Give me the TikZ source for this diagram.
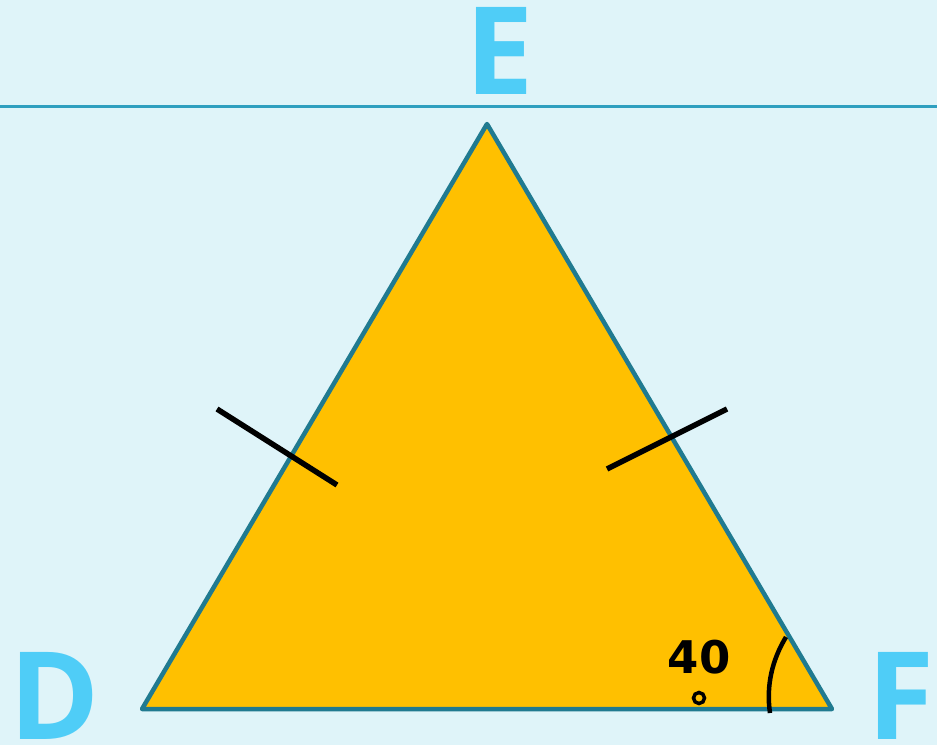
\documentclass[tikz,border=0pt]{standalone}
\usepackage{fontspec}
\setmainfont{DejaVu Sans}
\newfontfamily\lblfont{Open Sans}
\definecolor{bg}{HTML}{DFF4F9}
\definecolor{lbl}{HTML}{4FCDF7}
\definecolor{edge}{HTML}{207A90}
\definecolor{hline}{HTML}{2E9FBF}
\definecolor{tri}{HTML}{FFC000}
\begin{document}
\begin{tikzpicture}[x=1pt,y=-1pt,
  vlabel/.style={inner sep=0pt,text=lbl,font=\lblfont\fontsize{122}{122}\selectfont\bfseries},
  tick/.style={line width=5.5pt,black},
  side/.style={line width=4.5pt,edge,line join=round}]
\fill[bg] (0,0) rectangle (937,745);
\useasboundingbox (0,0) rectangle (937,745);
\coordinate (L) at (0,106);
\coordinate (R) at (937,106);
\draw[line width=3pt,hline] (L) -- (R);
\coordinate (D) at (142,709);
\coordinate (E) at (487,124);
\coordinate (F) at (832,709);
\filldraw[side,fill=tri] (D) -- (E) -- (F) -- cycle;
\node[vlabel] (lE) at (500,51) {E};
\node[vlabel] (lD) at (55,696) {D};
\node[vlabel] (lF) at (901,696) {F};
\coordinate (t1a) at (217,409);
\coordinate (t1b) at (337,485);
\coordinate (t2a) at (607,469);
\coordinate (t2b) at (727,409);
\draw[tick] (t1a) -- (t1b);
\draw[tick] (t2a) -- (t2b);
\coordinate (a1) at (786,637);
\coordinate (a2) at (770,713);
\draw[line width=4.5pt] (a1) .. controls (772,660) and (766,686) .. (a2);
\node[inner sep=0pt,font=\fontsize{45}{45}\selectfont\bfseries] (ang) at (699,657) {40};
\draw[line width=3.5pt] (699,698) circle (5.5);
\end{tikzpicture}
\end{document}
